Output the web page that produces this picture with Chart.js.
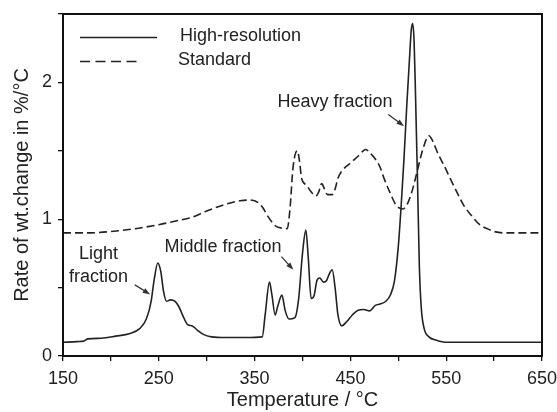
<!DOCTYPE html>
<html>
<head>
<meta charset="utf-8">
<script src="https://cdn.jsdelivr.net/npm/chart.js@4"></script>
<style>
  html, body { margin: 0; padding: 0; background: #fff; }
  #wrap { width: 557px; height: 412px; }
</style>
</head>
<body>
<div id="wrap"><canvas id="dtg"></canvas></div>
<script>
// high-resolution TGA run
const hrTemp = [150, 165, 172, 176, 190, 205, 220, 230, 237, 242, 245, 249, 252, 255, 258, 262, 267, 271, 276, 280,
    285, 290, 296, 305, 320, 340, 358, 361, 365.5, 368, 371.5, 374, 378.5, 382, 386, 392, 396, 400, 403.5, 406,
    409, 412, 415, 418, 422, 425, 428, 431, 434, 437, 441, 446, 452, 458, 464, 470, 476, 481, 487, 492,
    496, 500, 503, 506, 509, 511.5, 513.5, 515, 516.5, 518, 520, 522, 524, 527, 532, 540, 550, 600, 650];
const hrRate = [0.10, 0.105, 0.11, 0.125, 0.13, 0.145, 0.165, 0.20, 0.27, 0.40, 0.55, 0.68, 0.62, 0.47, 0.40, 0.41, 0.40, 0.36, 0.28, 0.23,
    0.22, 0.19, 0.16, 0.14, 0.135, 0.135, 0.14, 0.30, 0.54, 0.45, 0.30, 0.36, 0.445, 0.33, 0.27, 0.28, 0.42, 0.75, 0.92, 0.72,
    0.42, 0.44, 0.55, 0.57, 0.54, 0.55, 0.60, 0.63, 0.50, 0.30, 0.22, 0.25, 0.30, 0.335, 0.34, 0.33, 0.37, 0.38, 0.40, 0.45,
    0.55, 0.80, 1.10, 1.45, 1.85, 2.15, 2.38, 2.43, 2.30, 1.90, 1.30, 0.65, 0.35, 0.20, 0.14, 0.115, 0.10, 0.10, 0.10];

// standard TGA run
const stdTemp = [150, 175, 200, 225, 250, 270, 283, 300, 320, 335, 345, 354, 359, 363, 368, 372, 378, 384, 387, 390,
    394.5, 397, 399, 404, 409, 414, 417, 420, 423, 426, 431, 434, 437, 442, 450, 458, 466, 471, 476, 481,
    485, 491, 498, 505, 510, 515, 519, 526, 532, 536, 542, 548, 554, 561, 568, 576, 585, 593, 600, 610, 650];
const stdRate = [0.90, 0.90, 0.91, 0.93, 0.96, 0.99, 1.01, 1.06, 1.11, 1.135, 1.14, 1.12, 1.08, 1.03, 0.98, 0.95, 0.935, 0.93, 1.08, 1.37,
    1.50, 1.42, 1.30, 1.25, 1.20, 1.17, 1.20, 1.26, 1.22, 1.18, 1.18, 1.22, 1.30, 1.36, 1.41, 1.46, 1.51, 1.48, 1.44, 1.38,
    1.30, 1.20, 1.10, 1.075, 1.12, 1.22, 1.33, 1.52, 1.61, 1.57, 1.47, 1.39, 1.30, 1.20, 1.105, 1.03, 0.96, 0.93, 0.91, 0.90, 0.90];

const seriesNames = ['High-resolution', 'Standard'];

const xTickLabels = [150, 250, 350, 450, 550, 650];
const yTickLabels = [0, 1, 2];

const FONT = 'Arial, "Liberation Sans", Helvetica, sans-serif';
const INK = '#222';

// text + arrows, in data coordinates
const notes = [
    { lines: ['Light', 'fraction'], x: 187, y: 0.66, from: [225, 0.52], to: [241, 0.45] },
    { lines: ['Middle fraction'], x: 317, y: 0.80, from: [378, 0.726], to: [390.5, 0.63] },
    { lines: ['Heavy fraction'], x: 434, y: 1.856, from: [489.6, 1.766], to: [506, 1.68] }
];

function toPoints(xs, ys) {
    return xs.map((t, i) => ({ x: t, y: ys[i] }));
}

const framePlugin = {
    id: 'frame',
    afterDraw(chart) {
        const { ctx, chartArea: a, scales } = chart;
        const sx = scales.x, sy = scales.y;
        ctx.save();
        // box
        ctx.strokeStyle = '#111';
        ctx.lineWidth = 2;
        ctx.strokeRect(a.left, a.top, a.right - a.left, a.bottom - a.top);

        // legend inside plot
        ctx.lineWidth = 1.5;
        ctx.strokeStyle = INK;
        ctx.beginPath();
        ctx.moveTo(80, 37.5); ctx.lineTo(157, 37.5);
        ctx.stroke();
        ctx.setLineDash([10, 5.5]);
        ctx.beginPath();
        ctx.moveTo(80, 61.5); ctx.lineTo(142, 61.5);
        ctx.stroke();
        ctx.setLineDash([]);
        ctx.fillStyle = INK;
        ctx.font = '18px ' + FONT;
        ctx.textBaseline = 'middle';
        ctx.textAlign = 'left';
        ctx.fillText(seriesNames[0], 180, 36);
        ctx.fillText(seriesNames[1], 178, 60);

        // annotations
        ctx.textAlign = 'center';
        notes.forEach(n => {
            const cx = sx.getPixelForValue(n.x);
            const cy = sy.getPixelForValue(n.y);
            const lh = 23;
            const y0 = cy - (n.lines.length - 1) * lh / 2;
            n.lines.forEach((s, i) => ctx.fillText(s, cx, y0 + i * lh));

            const x1 = sx.getPixelForValue(n.from[0]), y1 = sy.getPixelForValue(n.from[1]);
            const x2 = sx.getPixelForValue(n.to[0]), y2 = sy.getPixelForValue(n.to[1]);
            const ang = Math.atan2(y2 - y1, x2 - x1);
            ctx.strokeStyle = '#333';
            ctx.lineWidth = 1.3;
            ctx.beginPath();
            ctx.moveTo(x1, y1);
            ctx.lineTo(x2 - 4 * Math.cos(ang), y2 - 4 * Math.sin(ang));
            ctx.stroke();
            ctx.fillStyle = '#333';
            ctx.beginPath();
            ctx.moveTo(x2, y2);
            ctx.lineTo(x2 - 8 * Math.cos(ang - 0.35), y2 - 8 * Math.sin(ang - 0.35));
            ctx.lineTo(x2 - 8 * Math.cos(ang + 0.35), y2 - 8 * Math.sin(ang + 0.35));
            ctx.closePath();
            ctx.fill();
            ctx.fillStyle = INK;
        });
        ctx.restore();
    }
};

new Chart(document.getElementById('dtg'), {
    type: 'line',
    data: {
        datasets: [
            {
                label: seriesNames[0],
                data: toPoints(hrTemp, hrRate),
                borderColor: INK,
                borderWidth: 1.6,
                pointRadius: 0,
                cubicInterpolationMode: 'monotone',
                fill: false
            },
            {
                label: seriesNames[1],
                data: toPoints(stdTemp, stdRate),
                borderColor: INK,
                borderWidth: 1.6,
                borderDash: [8, 4],
                pointRadius: 0,
                cubicInterpolationMode: 'monotone',
                fill: false
            }
        ]
    },
    options: {
        responsive: true,
        maintainAspectRatio: false,
        animation: false,
        layout: { padding: { top: 14, right: 15, left: 0, bottom: 0 } },
        plugins: {
            legend: { display: false },
            tooltip: { enabled: false }
        },
        scales: {
            x: {
                type: 'linear',
                min: 150,
                max: 650,
                afterFit: s => { s.height = 56; s.paddingLeft = 0; s.paddingRight = 0; },
                border: { display: false },
                grid: { drawOnChartArea: false, drawTicks: true, tickLength: 5, color: '#111', lineWidth: 1.3 },
                ticks: {
                    stepSize: 50,
                    maxRotation: 0,
                    autoSkip: false,
                    padding: 7,
                    color: INK,
                    font: { family: FONT, size: 18 },
                    callback: v => xTickLabels.includes(v) ? String(v) : ''
                },
                title: {
                    display: true,
                    text: 'Temperature / \u00B0C',
                    color: INK,
                    font: { family: FONT, size: 20 },
                    padding: { top: 0, bottom: 0 }
                }
            },
            y: {
                min: 0,
                max: 2.5,
                afterFit: s => { s.width = 63; s.paddingTop = 0; s.paddingBottom = 0; },
                border: { display: false },
                grid: { drawOnChartArea: false, drawTicks: true, tickLength: 5, color: '#111', lineWidth: 1.3 },
                ticks: {
                    stepSize: 0.5,
                    padding: 6,
                    color: INK,
                    font: { family: FONT, size: 18 },
                    callback: v => yTickLabels.includes(v) ? String(v) : ''
                },
                title: {
                    display: true,
                    text: 'Rate of wt.change in %/\u00B0C',
                    color: INK,
                    font: { family: FONT, size: 20 },
                    padding: { top: 10, bottom: 0 }
                }
            }
        }
    },
    plugins: [framePlugin]
});
</script>
</body>
</html>
